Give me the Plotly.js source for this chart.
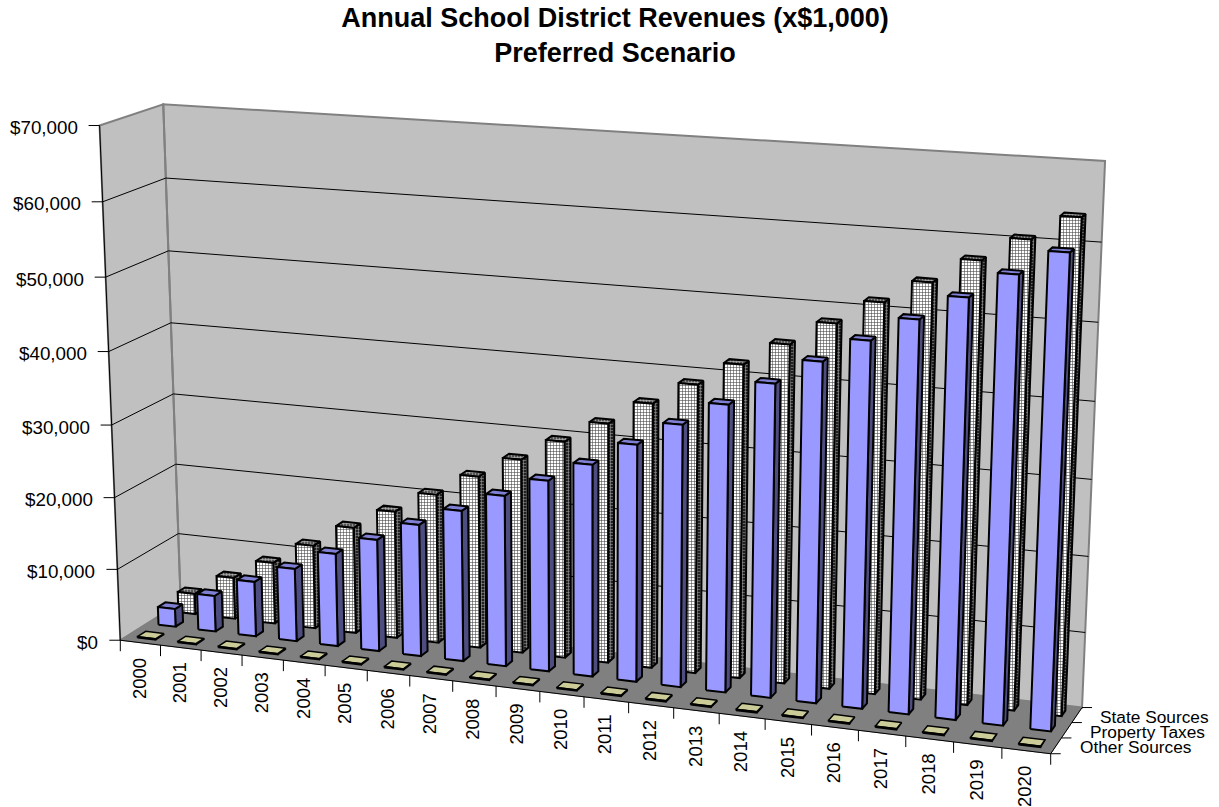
<!DOCTYPE html>
<html><head><meta charset="utf-8"><script src="https://cdn.plot.ly/plotly-3.0.1.min.js"></script>
<style>html,body{margin:0;padding:0;background:#fff}#chart{width:1219px;height:807px}</style></head>
<body><div id="chart"></div>
<script>
// Annual district revenues in thousands of dollars, one value per year and source
const years=[2000,2001,2002,2003,2004,2005,2006,2007,2008,2009,2010,2011,2012,2013,2014,2015,2016,2017,2018,2019,2020];
const otherSources=[150,150,150,150,150,150,150,150,150,150,150,150,150,150,150,150,150,150,150,150,150];
const propertyTaxes=[2530,5050,7700,10170,12900,15470,18150,20670,23300,25910,28620,31830,35000,38140,41370,44690,47840,50960,54160,57440,60570];
const stateSources=[2910,5870,8660,11710,14860,17710,20660,23730,26620,29620,32580,35780,38810,41940,45040,48220,51370,54350,57550,60580,63710];
const valueTicks=[0,10000,20000,30000,40000,50000,60000,70000];
const valueLabels=['$0','$10,000','$20,000','$30,000','$40,000','$50,000','$60,000','$70,000'];
const seriesNames=['Other Sources','Property Taxes','State Sources'];
const maxValue=70000;

// Perspective camera, fitted from where the box edges fall on the page.
// Each row: category fraction, depth fraction, height fraction, page x, page y.
const cameraFit=[
 [0,0,0,120,640],[1,0,0,1051,754],[0,1,0,181,603],[1,1,0,1082,707],[0,0,1,99,125],[0,1,1,163,104],[1,1,1,1105,161],
 [0,0,6/7,103,202],[0,0,5/7,106,278],[0,0,4/7,109,352],[0,0,3/7,112,425],[0,0,2/7,115,497],[0,0,1/7,117,569],
 [1/21,0,0,160,645],[20/21,0,0,1001.7,748]];

function solve(A,b){
  const n=b.length,M=A.map((r,i)=>[...r,b[i]]);
  for(let c=0;c<n;c++){
    let p=c;
    for(let r=c+1;r<n;r++) if(Math.abs(M[r][c])>Math.abs(M[p][c])) p=r;
    [M[c],M[p]]=[M[p],M[c]];
    for(let r=0;r<n;r++){
      if(r===c) continue;
      const f=M[r][c]/M[c][c];
      for(let k=c;k<=n;k++) M[r][k]-=f*M[c][k];
    }
  }
  return M.map((r,i)=>r[n]/r[i]);
}
const eqs=[],rhs=[];
cameraFit.forEach(([X,Z,V,u,v])=>{
  eqs.push([X,Z,V,1,0,0,0,0,-u*X,-u*Z,-u*V]);rhs.push(u);
  eqs.push([0,0,0,0,X,Z,V,1,-v*X,-v*Z,-v*V]);rhs.push(v);
});
const range11=Array.from({length:11},(_,i)=>i);
const m=solve(range11.map(i=>range11.map(j=>eqs.reduce((s,r)=>s+r[i]*r[j],0))),
              range11.map(i=>eqs.reduce((s,r,k)=>s+r[i]*rhs[k],0)));
function P(X,Z,V){
  const w=m[8]*X+m[9]*Z+m[10]*V+1;
  return [(m[0]*X+m[1]*Z+m[2]*V+m[3])/w,(m[4]*X+m[5]*Z+m[6]*V+m[7])/w];
}

const traces=[];
function poly(list,fill,lineColor,width,extra){
  const x=[],y=[];
  list.forEach(p=>{
    p.forEach(q=>{x.push(q[0]);y.push(q[1]);});
    x.push(p[0][0],null);y.push(p[0][1],null);
  });
  traces.push(Object.assign({type:'scatter',mode:'lines',x,y,fill:'toself',fillcolor:fill,
    line:{color:lineColor,width},hoverinfo:'skip',showlegend:false},extra||{}));
}
function segments(list,color,width){
  const x=[],y=[];
  list.forEach(([a,b])=>{x.push(a[0],b[0],null);y.push(a[1],b[1],null);});
  traces.push({type:'scatter',mode:'lines',x,y,line:{color,width},hoverinfo:'skip',showlegend:false});
}
const barWidth=0.43,barDepth=0.125,n=years.length;
function boxes(vals,zc,width,depth){
  const F=[],S=[],T=[];
  vals.forEach((v,i)=>{
    const a=(i+.5-width/2)/n,b=(i+.5+width/2)/n,c=zc-depth/2,d=zc+depth/2,h=v/maxValue;
    F.push([P(a,c,0),P(b,c,0),P(b,c,h),P(a,c,h)]);
    S.push([P(b,c,0),P(b,d,0),P(b,d,h),P(b,c,h)]);
    T.push([P(a,c,h),P(b,c,h),P(b,d,h),P(a,d,h)]);
  });
  return {F,S,T};
}
const rowCentre=[1/6,1/2,5/6];
const dots=(bg,fg,solidity)=>({fillpattern:{shape:'+',size:3,solidity,fgcolor:fg,bgcolor:bg}});

// Walls, value gridlines and floor
poly([[P(0,0,0),P(0,1,0),P(0,1,1),P(0,0,1)],[P(0,1,0),P(1,1,0),P(1,1,1),P(0,1,1)]],'#c0c0c0','#808080',2);
poly([[P(0,0,0),P(1,0,0),P(1,1,0),P(0,1,0)]],'#808080','#808080',1);
const grid=[];
valueTicks.slice(1,-1).forEach(v=>{const h=v/maxValue;grid.push([P(0,0,h),P(0,1,h)],[P(0,1,h),P(1,1,h)]);});
segments(grid,'#000',1);

// Bars, back row first
const st=boxes(stateSources,rowCentre[2],barWidth,barDepth);
poly(st.S,'#444','#000',2,dots('#222','#999',.35));
poly(st.T,'#888','#000',2,dots('#555','#bbb',.35));
poly(st.F,'#ddd','#000',2,dots('#fff','#444',.34));
const pr=boxes(propertyTaxes,rowCentre[1],barWidth,barDepth);
poly(pr.S,'#4d4d80','#000',2);
poly(pr.T,'#7f7fd4','#000',2);
poly(pr.F,'#9999ff','#000',2);
const ot=boxes(otherSources,rowCentre[0],barWidth+.02,barDepth+.01);
poly(ot.S,'#66664d','#000',1.5);
poly(ot.T,'#cccc99','#000',1.5);
poly(ot.F,'#cccc99','#000',1.5);

// Axis lines and ticks
const axisSegs=[[P(0,0,0),P(0,0,1)],[P(0,0,0),P(1,0,0)],[P(1,0,0),P(1,1,0)]];
valueTicks.forEach(v=>{const p=P(0,0,v/maxValue);axisSegs.push([p,[p[0]-11,p[1]]]);});
for(let i=0;i<=n;i++){const p=P(i/n,0,0);axisSegs.push([p,[p[0],p[1]+11]]);}
[0,1,2,3].forEach(k=>{const p=P(1,k/3,0);axisSegs.push([p,[p[0]+10,p[1]]]);});
segments(axisSegs,'#000',1);

const font={family:'"Liberation Sans",Arial,sans-serif',color:'#000'};
const ann=[];
const note=(text,x,y,size,xanchor,yanchor,textangle)=>ann.push({text,x,y,xref:'x',yref:'y',showarrow:false,
  xanchor,yanchor,textangle:textangle||0,borderpad:0,font:Object.assign({size},font)});
valueTicks.forEach((v,i)=>{const p=P(0,0,v/maxValue);note(valueLabels[i],p[0]-21,p[1]+2,18.8,'right','middle');});
years.forEach((y,i)=>{const p=P((i+.5)/n,0,0);note(String(y),p[0]-1.5,p[1]+14,18.5,'center','top',-90);});
seriesNames.forEach((s,i)=>{const p=P(1,rowCentre[i],0);note(s,p[0]+22.5,p[1]+1.5,17.3,'left','middle');});

const layout={width:1219,height:807,margin:{l:0,r:0,t:0,b:0},paper_bgcolor:'#fff',plot_bgcolor:'rgba(0,0,0,0)',
  xaxis:{range:[0,1219],visible:false},yaxis:{range:[807,0],visible:false},showlegend:false,annotations:ann,
  title:{text:'Annual School District Revenues (x$1,000)<br>Preferred Scenario',x:615/1219,xanchor:'center',y:1-27/807,yanchor:'top',
    font:Object.assign({},font,{size:27,weight:'bold'})}};
Plotly.newPlot('chart',traces,layout,{staticPlot:true});
</script></body></html>
